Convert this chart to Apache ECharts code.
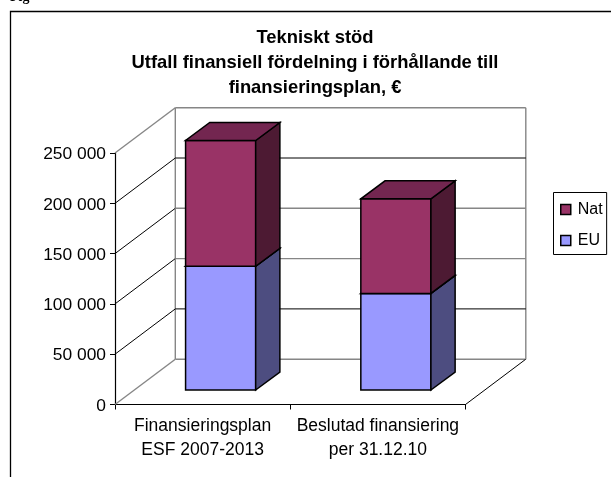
<!DOCTYPE html>
<html><head><meta charset="utf-8">
<style>html,body{margin:0;padding:0;background:#fff;overflow:hidden}#c{width:611px;height:477px}</style>
<script src="https://cdn.jsdelivr.net/npm/echarts@6/dist/echarts.min.js"></script>
</head><body><div id="c"></div>
<script>
const categories = ['Finansieringsplan\nESF 2007-2013', 'Beslutad finansiering\nper 31.12.10'];
const euValues = [123000, 96000];
const natValues = [125000, 94000];
const yTicks = [0, 50000, 100000, 150000, 200000, 250000];
const titleText = 'Tekniskt stöd\nUtfall finansiell fördelning i förhållande till\nfinansieringsplan, €';

// 3D projection of the chart, in pixels
const WALL_DX = 60.3, WALL_DY = 45.3, BAR_DX = 24.2, BAR_DY = 18, BAR_OFF_DX = 18, BAR_OFF_DY = 14.5, BAR_RATIO = 0.4;
const FONT = '"Liberation Sans", Arial, sans-serif';
const FACES = {
  Nat: {front: '#993366', side: '#4D1A33', top: '#732650'},
  EU:  {front: '#9999FF', side: '#4D4D80', top: '#7373BF'}
};
const fmt = v => '{a|' + String(v).replace(/\B(?=(\d{3})+$)/g, ' ') + '}';

const chart = echarts.init(document.getElementById('c'), null, {renderer: 'canvas'});

function poly(points, fill) {
  return {type: 'polygon', shape: {points}, style: {fill, stroke: '#000', lineWidth: 1.5, lineJoin: 'miter'}};
}
function line(a, b, stroke, w) {
  return {type: 'line', shape: {x1: a[0], y1: a[1], x2: b[0], y2: b[1]}, style: {stroke, lineWidth: w}};
}
function renderBar(name) {
  return (params, api) => {
    const f = FACES[name];
    const w = api.size([1, 0])[0] * BAR_RATIO;
    const a = api.coord([api.value(0), api.value(1)]);
    const b = api.coord([api.value(0), api.value(2)]);
    const x0 = a[0] - w / 2 + BAR_OFF_DX, x1 = x0 + w;
    const yb = a[1] - BAR_OFF_DY, yt = b[1] - BAR_OFF_DY;
    return {type: 'group', children: [
      poly([[x0, yb], [x1, yb], [x1, yt], [x0, yt]], f.front),
      poly([[x1, yb], [x1 + BAR_DX, yb - BAR_DY], [x1 + BAR_DX, yt - BAR_DY], [x1, yt]], f.side),
      poly([[x0, yt], [x1, yt], [x1 + BAR_DX, yt - BAR_DY], [x0 + BAR_DX, yt - BAR_DY]], f.top)
    ]};
  };
}
function renderWall(params, api) {
  const i = params.dataIndex, v = api.value(0);
  const gray = '#868686';
  const left = api.coord([0, v]);
  left[0] = params.coordSys.x;
  const right = params.coordSys.x + params.coordSys.width;
  const p = [left[0] + WALL_DX, left[1] - WALL_DY];
  const q = [right + WALL_DX, left[1] - WALL_DY];
  const edge = i === 0 || i === yTicks.length - 1;
  const grayBack = [true, false, true, true, false, true][yTicks.length - 1 - i];
  const kids = [
    line(left, p, edge ? gray : '#000', edge ? 1.4 : 1),
    line(p, q, grayBack ? gray : '#000', grayBack ? 1.4 : 1)
  ];
  if (i === 0) {
    kids.push(line([right, left[1]], q, '#000', 1));
    const top = api.coord([0, yTicks[yTicks.length - 1]])[1] - WALL_DY;
    kids.push(line(p, [p[0], top], gray, 1.4), line(q, [q[0], top], gray, 1.4));
  }
  return {type: 'group', children: kids};
}

chart.setOption({
  animation: false,
  backgroundColor: '#fff',
  title: {
    text: titleText, left: 310, top: 21, textAlign: 'center',
    textStyle: {fontFamily: FONT, fontWeight: 'bold', fontSize: 18.4, lineHeight: 24.8, color: '#000'}
  },
  legend: {
    data: ['Nat', 'EU'], orient: 'vertical', left: 553.5, top: 192.5,
    padding: [8, 4, 5, 6.5], itemGap: 13, itemWidth: 10, itemHeight: 10, icon: 'rect',
    borderColor: '#000', borderWidth: 1, backgroundColor: '#fff',
    textStyle: {fontFamily: FONT, fontSize: 16, color: '#000', padding: [0, 0, 0, 2], lineHeight: 18},
    itemStyle: {borderColor: '#000', borderWidth: 1.5}
  },
  grid: {left: 115, right: 611 - 465.5, top: 153, bottom: 477 - 404.5, containLabel: false},
  xAxis: {
    type: 'category', data: categories, boundaryGap: true,
    axisLine: {lineStyle: {color: '#000', width: 1.2}},
    axisTick: {show: true, length: 5, alignWithLabel: false, lineStyle: {color: '#000'}},
    axisLabel: {fontFamily: FONT, fontSize: 17.5, color: '#000', lineHeight: 24, margin: 10, interval: 0}
  },
  yAxis: {
    type: 'value', min: 0, max: 250000, interval: 50000,
    axisLine: {show: true, lineStyle: {color: '#000', width: 1.2}},
    axisTick: {show: true, length: 5, lineStyle: {color: '#000'}},
    splitLine: {show: false},
    axisLabel: {color: '#000', margin: 9, formatter: fmt,
      rich: {a: {fontFamily: FONT, fontSize: 17.4, color: '#000', padding: [3, 0, 0, 0]}}}
  },
  graphic: [
    {type: 'rect', silent: true, z: -1, shape: {x: 10.5, y: 11.5, width: 800, height: 800},
     style: {fill: 'none', stroke: '#000', lineWidth: 1.3}},
    {type: 'text', silent: true, x: 10, y: 4, style: {text: 'Fig', font: 'bold 14px "Liberation Serif"', fill: '#000', verticalAlign: 'bottom'}}
  ],
  series: [
    {name: 'walls', type: 'custom', coordinateSystem: 'cartesian2d', silent: true, z: 1, clip: false,
     encode: {y: 0}, data: yTicks.map(v => [v]), renderItem: renderWall},
    {name: 'EU', type: 'custom', coordinateSystem: 'cartesian2d', z: 2, clip: false,
     itemStyle: {color: FACES.EU.front},
     encode: {x: 0, y: [1, 2]}, data: categories.map((c, i) => [i, 0, euValues[i]]), renderItem: renderBar('EU')},
    {name: 'Nat', type: 'custom', coordinateSystem: 'cartesian2d', z: 3, clip: false,
     itemStyle: {color: FACES.Nat.front},
     encode: {x: 0, y: [1, 2]}, data: categories.map((c, i) => [i, euValues[i], euValues[i] + natValues[i]]), renderItem: renderBar('Nat')}
  ]
});
</script></body></html>
